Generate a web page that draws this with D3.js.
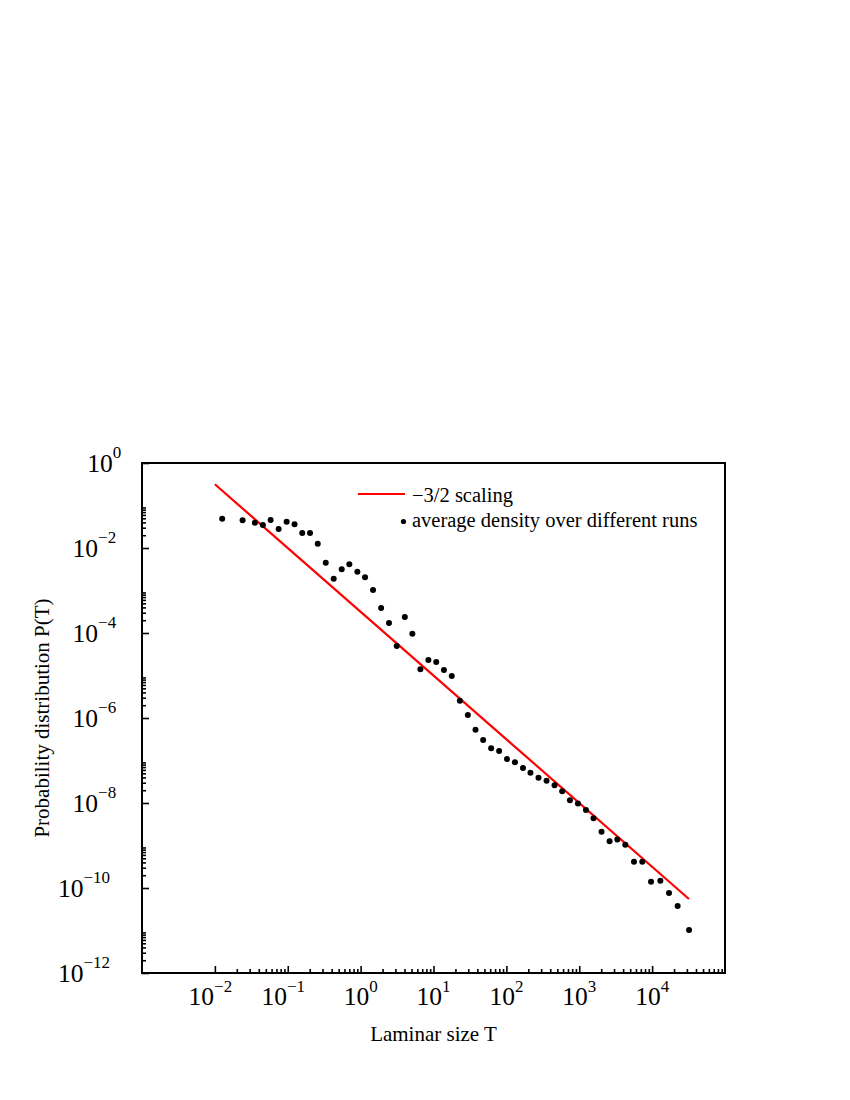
<!DOCTYPE html>
<html>
<head>
<meta charset="utf-8">
<script src="https://cdn.jsdelivr.net/npm/d3@7"></script>
<style>
  html, body { margin: 0; padding: 0; background: #fff; }
  svg { display: block; }
  text { font-family: "Liberation Serif", "Times New Roman", Times, serif; fill: #000; }
</style>
</head>
<body>
<svg id="chart" width="850" height="1100"></svg>
<script>
// Laminar size T (x) and averaged probability density P(T) (y)
const laminarT = [0.0126, 0.0240, 0.0354, 0.0456, 0.0582, 0.0750, 0.0966, 0.124, 0.158, 0.202,
  0.258, 0.332, 0.427, 0.550, 0.700, 0.902, 1.15, 1.48, 1.91, 2.45,
  3.13, 4.04, 5.13, 6.61, 8.51, 10.9, 13.9, 17.8, 23.0, 29.6,
  37.7, 48.0, 61.8, 79.6, 102, 131, 169, 214, 276, 356,
  458, 583, 745, 959, 1236, 1570, 2023, 2606, 3327, 4285,
  5636, 7328, 9661, 12970, 17060, 22390, 32140];
const densityP = [0.0489, 0.0449, 0.0394, 0.0348, 0.0456, 0.0280, 0.0416, 0.0361, 0.0225, 0.0225,
  0.0126, 0.00451, 0.00190, 0.00316, 0.00413, 0.00277, 0.00205, 0.00103, 3.87e-4, 1.72e-4,
  4.94e-5, 2.38e-4, 9.64e-5, 1.40e-5, 2.32e-5, 2.08e-5, 1.35e-5, 9.73e-6, 2.55e-6, 1.18e-6,
  5.31e-7, 3.03e-7, 1.94e-7, 1.67e-7, 1.08e-7, 9.08e-8, 6.67e-8, 5.16e-8, 3.94e-8, 3.35e-8,
  2.61e-8, 1.88e-8, 1.16e-8, 9.72e-9, 6.84e-9, 4.39e-9, 2.11e-9, 1.26e-9, 1.38e-9, 1.04e-9,
  4.16e-10, 4.16e-10, 1.41e-10, 1.49e-10, 7.62e-11, 3.77e-11, 1.03e-11];
// -3/2 scaling reference line endpoints
const scalingT = [0.01, 32000];
const scalingP = [0.316, 5.52e-11];
// tick exponents
const xTickExps = [-2, -1, 0, 1, 2, 3, 4];
const xMinorDecades = [-2, -1, 0, 1, 2, 3, 4];
const yTickExps = [0, -2, -4, -6, -8, -10, -12];
const yMinorDecades = [-12, -10, -8, -6, -4, -2];
const minorMult = [2, 3, 4, 5, 6, 7, 8, 9];
const legendLabels = ["\u22123/2 scaling", "average density over different runs"];
const xTitle = "Laminar size T";
const yTitle = "Probability distribution P(T)";

const L = 142, R = 725, TOP = 463, BOT = 973;
const svg = d3.select("#chart");
svg.append("rect").attr("width", 850).attr("height", 1100).attr("fill", "#fff");

const x = d3.scaleLog().domain([1e-3, 1e5]).range([L, R]);
const y = d3.scaleLog().domain([1e-12, 1]).range([BOT, TOP]);

// ticks (inward)
const xMajor = xTickExps.map(e => Math.pow(10, e));
const xMinor = [];
xMinorDecades.forEach(d => minorMult.forEach(m => xMinor.push(m * Math.pow(10, d))));
const yMajor = yTickExps.map(e => Math.pow(10, e));
const yMinor = [];
yMinorDecades.forEach(d => minorMult.forEach(m => yMinor.push(m * Math.pow(10, d))));

function styleAxis(g) {
  g.select(".domain").remove();
  g.selectAll(".tick line").attr("stroke", "#000").attr("stroke-width", 1.6);
  g.selectAll(".tick text").remove();
}
svg.append("g").attr("transform", `translate(0,${BOT})`)
  .call(d3.axisBottom(x).tickValues(xMajor).tickSize(-7).tickFormat(() => "")).call(styleAxis);
svg.append("g").attr("transform", `translate(0,${BOT})`)
  .call(d3.axisBottom(x).tickValues(xMinor).tickSize(-4).tickFormat(() => "")).call(styleAxis);
svg.append("g").attr("transform", `translate(${L},0)`)
  .call(d3.axisLeft(y).tickValues(yMajor).tickSize(-7).tickFormat(() => "")).call(styleAxis);
svg.append("g").attr("transform", `translate(${L},0)`)
  .call(d3.axisLeft(y).tickValues(yMinor).tickSize(-4).tickFormat(() => "")).call(styleAxis);

// frame
svg.append("rect").attr("x", L).attr("y", TOP).attr("width", R - L).attr("height", BOT - TOP)
  .attr("fill", "none").attr("stroke", "#000").attr("stroke-width", 2);

function expStr(e) { return e < 0 ? "\u2212" + Math.abs(e) : String(e); }

// x tick labels
xTickExps.forEach(e => {
  const t = svg.append("text")
    .attr("x", x(Math.pow(10, e)) - (e < 0 ? 4.5 : 0))
    .attr("y", 1005)
    .attr("text-anchor", "middle")
    .attr("font-size", 25.5);
  t.append("tspan").text("10");
  t.append("tspan").attr("font-size", 17).attr("dy", -13).text(expStr(e));
});

// y tick labels
yTickExps.forEach(e => {
  const s = expStr(e);
  const t = svg.append("text")
    .attr("x", 102 - 14.7 * s.length)
    .attr("y", y(Math.pow(10, e)) + 8.7)
    .attr("text-anchor", "start")
    .attr("font-size", 25.5);
  t.append("tspan").text("10");
  t.append("tspan").attr("font-size", 17).attr("dy", -14).text(s);
});

// scaling line
const line = d3.line().x(d => x(d[0])).y(d => y(d[1]));
svg.append("path")
  .datum(scalingT.map((t, i) => [t, scalingP[i]]))
  .attr("d", line)
  .attr("fill", "none").attr("stroke", "#ff0000").attr("stroke-width", 2.2);

// data points
svg.append("g").selectAll("circle")
  .data(laminarT.map((t, i) => [t, densityP[i]]))
  .join("circle")
  .attr("cx", d => x(d[0])).attr("cy", d => y(d[1])).attr("r", 3)
  .attr("fill", "#000");

// legend
svg.append("line").attr("x1", 358).attr("x2", 405).attr("y1", 494).attr("y2", 494)
  .attr("stroke", "#ff0000").attr("stroke-width", 2);
svg.append("text").attr("x", 412).attr("y", 502).attr("font-size", 20.5).text(legendLabels[0]);
svg.append("circle").attr("cx", 403.5).attr("cy", 521.5).attr("r", 2.6).attr("fill", "#000");
svg.append("text").attr("x", 412).attr("y", 527).attr("font-size", 20.5).text(legendLabels[1]);

// axis titles
svg.append("text").attr("x", (L + R) / 2).attr("y", 1041).attr("text-anchor", "middle")
  .attr("font-size", 21).text(xTitle);
svg.append("text").attr("transform", `translate(49,${(TOP + BOT) / 2}) rotate(-90)`)
  .attr("text-anchor", "middle").attr("font-size", 21).text(yTitle);
</script>
</body>
</html>
